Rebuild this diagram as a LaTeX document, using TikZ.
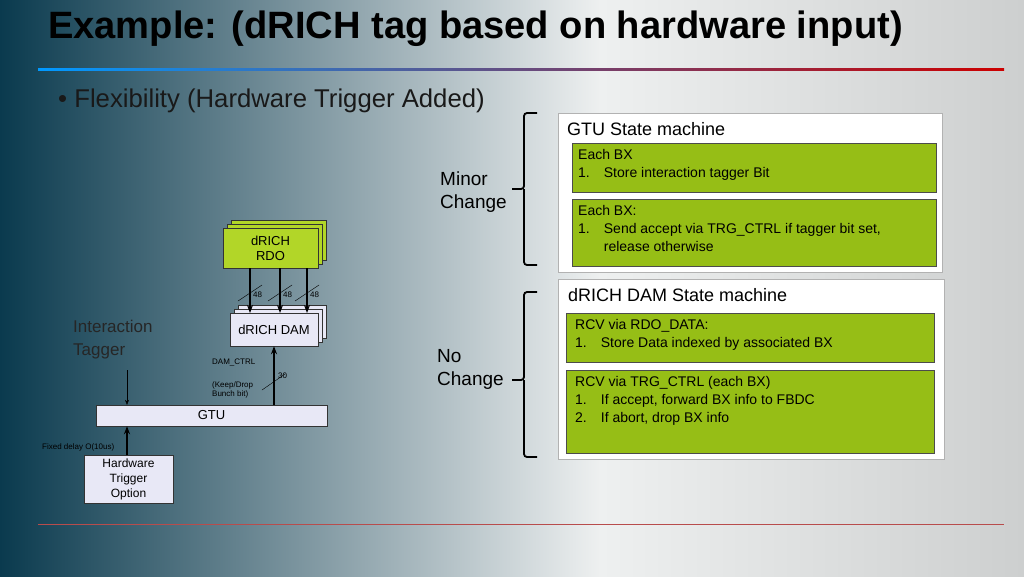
\documentclass[tikz,border=0pt]{standalone}
\usepackage{fontspec}
\setmainfont{Liberation Sans}
\usetikzlibrary{positioning,arrows.meta}
\definecolor{bgdark}{RGB}{10,58,78}
\definecolor{bglight}{RGB}{238,240,240}
\definecolor{bggray}{RGB}{205,207,207}
\definecolor{rdogreen}{RGB}{178,214,40}
\definecolor{boxgreen}{RGB}{150,190,22}
\definecolor{damfill}{RGB}{232,232,246}
\tikzset{
  greenbox/.style={draw=gray!60!black, fill=boxgreen, inner sep=0pt},
  smbox/.style={draw=gray!60, fill=white, inner sep=0pt},
  blockbox/.style={draw=gray!40!black, fill=damfill, font=\fontsize{13}{15}\selectfont, align=center},
  boxtext/.style={anchor=north west, align=left, font=\fontsize{14}{18}\selectfont, inner sep=0pt},
  tiny/.style={font=\fontsize{8}{9}\selectfont, inner sep=0pt},
  busarrow/.style={-{Stealth[length=8pt,width=6pt]}, line width=1.4pt},
  bracket/.style={line width=1.8pt, rounded corners=3pt},
}
\begin{document}
\begin{tikzpicture}[x=1pt, y=-1pt]
\useasboundingbox (0,0) rectangle (1024,576);
%%%%% Background %%%%%
\shade[left color=bgdark, right color=bglight] (0,0) rectangle (600,576);
\shade[left color=bglight, right color=bggray] (600,0) rectangle (1024,576);
\node[anchor=base west, font=\fontsize{38.1}{40}\bfseries\selectfont, inner sep=0pt] (title) at (48,38) {Example: (dRICH tag based on hardware input)};
\shade[left color=cyan!60!blue, right color=red!80!black] (38,68) rectangle (1004,70.5);
\draw[red!60!black!70, line width=0.8pt] (38,524) -- (1004,524);
\node[anchor=base west, font=\fontsize{25.7}{28}\selectfont, black!90, inner sep=0pt] (bullet) at (58,107) {\textbullet\ Flexibility (Hardware Trigger Added)};

%%%%% Left diagram %%%%%
\foreach \d in {8,4}{
\draw[draw=gray!40!black, fill=rdogreen] (223+\d,228-\d) rectangle (318+\d,268-\d);
\draw[draw=gray!40!black, fill=damfill] (230+\d,313-\d) rectangle (318+\d,346-\d);
}
\node[blockbox, fill=rdogreen, minimum width=95pt, minimum height=40pt] (rdo) at (270.5,248) {dRICH\\RDO};
\node[blockbox, minimum width=88pt, minimum height=33pt] (dam) at (274,329.5) {dRICH DAM};
\node[blockbox, minimum width=231pt, minimum height=21pt] (gtu) at (211.5,415.5) {GTU};
\node[blockbox, minimum width=89pt, minimum height=47pt, font=\fontsize{12}{15}\selectfont] (hw) at (128.5,479.5) {Hardware\\Trigger\\Option};
\node[anchor=north west, align=left, font=\fontsize{17}{23}\selectfont, black!85, inner sep=0pt] (tagger) at (73,320) {Interaction\\Tagger};
\coordinate (tagend) at (127,370);
\foreach \x in {250,280,307}{
\draw[busarrow] (\x,268) -- (\x,313);
\draw[thin] (\x-12,301) -- (\x+12,285);
\node[tiny, anchor=west] at (\x+3,295) {48};
}
\draw[busarrow] (gtu.north -| dam) -- (dam.south);
\draw[thin] (262,390) -- (285,374);
\node[tiny, anchor=west] at (278,376) {30};
\node[tiny, anchor=west] at (212,362) {DAM\_CTRL};
\node[tiny, anchor=north west, align=left] at (212,381) {(Keep/Drop\\Bunch bit)};
\draw[-{Stealth[length=5pt,width=4pt]}, thin] (tagend) -- (tagend |- gtu.north);
\draw[busarrow] (hw.north -| tagend) -- (tagend |- gtu.south);
\node[tiny, anchor=west] at (42,447) {Fixed delay O(10us)};

%%%%% State machines %%%%%
\draw[smbox] (558,113) rectangle (942,272);
\node[anchor=west, font=\fontsize{18}{20}\selectfont, inner sep=0pt] (gtusm) at (567,129) {GTU State machine};
\draw[greenbox] (572,143) rectangle (936,192);
\node[boxtext] (gtuone) at (578,149) {Each BX\\1.\hspace{14pt}Store interaction tagger Bit};
\draw[greenbox] (572,199) rectangle (936,266);
\node[boxtext] (gtutwo) at (578,205) {Each BX:\\1.\hspace{14pt}Send accept via TRG\_CTRL if tagger bit set,\\\hphantom{1.}\hspace{14pt}release otherwise};
\draw[smbox] (558,279) rectangle (944,459);
\node[anchor=west, font=\fontsize{18}{20}\selectfont, inner sep=0pt] (damsm) at (568,295) {dRICH DAM State machine};
\draw[greenbox] (566,313) rectangle (934,362);
\node[boxtext] (damone) at (575,319) {RCV via RDO\_DATA:\\1.\hspace{14pt}Store Data indexed by associated BX};
\draw[greenbox] (566,370) rectangle (934,453);
\node[boxtext] (damtwo) at (575,376) {RCV via TRG\_CTRL (each BX)\\1.\hspace{14pt}If accept, forward BX info to FBDC\\2.\hspace{14pt}If abort, drop BX info};

%%%%% Brackets %%%%%
\draw[bracket] (537,113) -| (524,189) -- (512,189);
\draw[bracket] (537,265) -| (524,189);
\draw[bracket] (537,292) -| (524,380) -- (512,380);
\draw[bracket] (537,457) -| (524,380);
\node[anchor=north west, align=left, font=\fontsize{19}{23}\selectfont, inner sep=0pt] (minor) at (440,172) {Minor\\Change};
\node[anchor=north west, align=left, font=\fontsize{19}{23}\selectfont, inner sep=0pt] (nochg) at (437,349) {No\\Change};
\end{tikzpicture}
\end{document}
